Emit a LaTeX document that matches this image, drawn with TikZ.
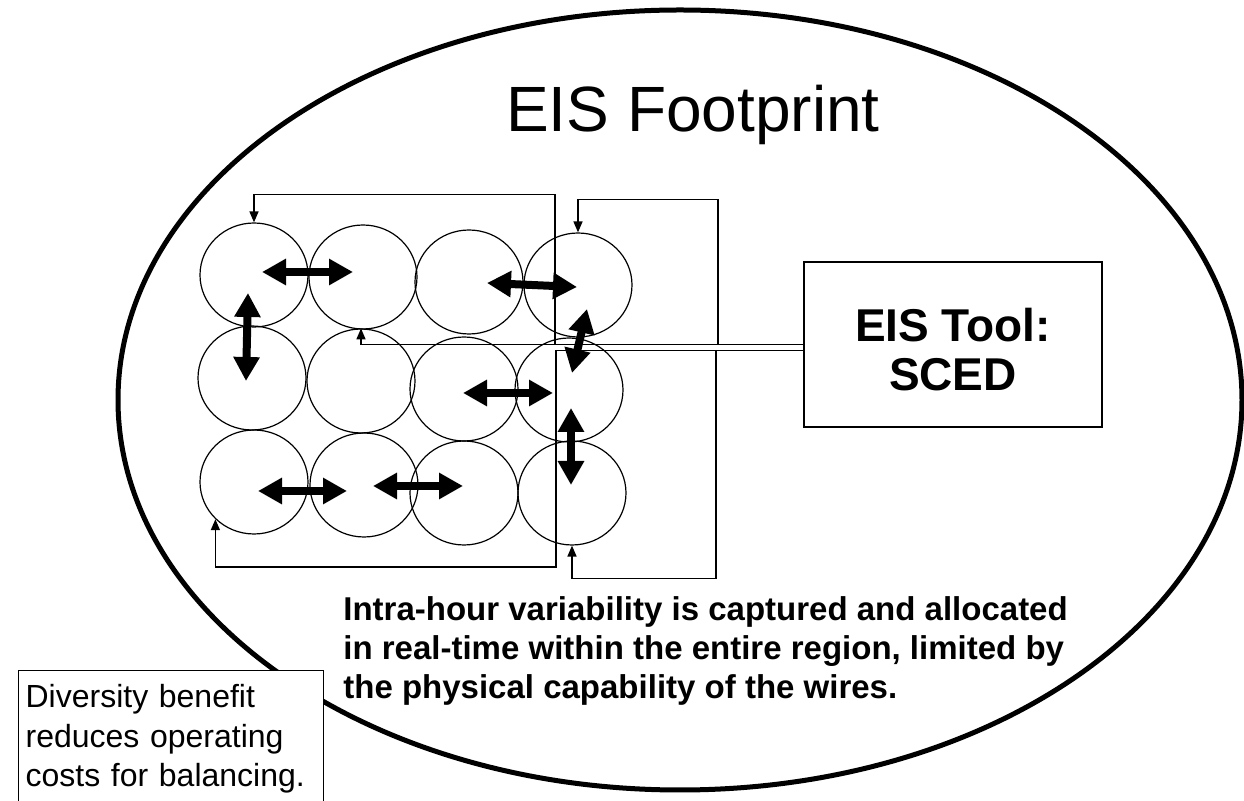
\documentclass[tikz,border=0pt]{standalone}
\usepackage{fontspec}
\setmainfont{Liberation Sans}
\usetikzlibrary{shapes.geometric,arrows.meta}

\begin{document}
\begin{tikzpicture}[x=0.5pt,y=-0.5pt]
\tikzstyle{cell}=[draw,ellipse,line width=0.6pt,inner sep=0pt,minimum width=54pt,minimum height=52pt];
\tikzstyle{flow}=[line width=4pt,{Triangle[length=12pt,width=12.5pt]}-{Triangle[length=12pt,width=12.5pt]}];
\tikzstyle{link}=[line width=0.8pt,-{Triangle[length=5.5pt,width=4.5pt]}];
\useasboundingbox (0,0) rectangle (1244,801);
\draw[line width=2.5pt] (680,400) ellipse [x radius=281pt,y radius=195pt];
\path (693,132) node[anchor=base,font=\fontsize{32}{38}\selectfont] (title) {EIS Footprint};
\path (254,275) node[cell] (c11) {};
\path (363,277) node[cell] (c12) {};
\path (469,282) node[cell] (c13) {};
\path (578,285) node[cell] (c14) {};
\path (252,378) node[cell] (c21) {};
\path (361,381) node[cell] (c22) {};
\path (464,389) node[cell] (c23) {};
\path (569,390) node[cell] (c24) {};
\path (254,482) node[cell] (c31) {};
\path (364,485) node[cell] (c32) {};
\path (464,493) node[cell] (c33) {};
\path (572,493) node[cell] (c34) {};
\path (953,344.5) node[draw,line width=0.8pt,minimum width=149pt,minimum height=82.5pt,align=center,font=\bfseries\fontsize{23}{24.5}\selectfont] (sced) {\rule{0pt}{22pt}EIS Tool:\\SCED};
\coordinate (tapA) at (555,344.5);
\coordinate (tapB) at (718,344.5);
\coordinate (tapD) at (716,350.5);
\coordinate (bendC) at (556,567);
\draw[link] (sced.west) -| (c22.north);
\draw[link] (tapA) |- ([shift={(0,-28)}]c11.north) -- (c11.north);
\draw[link] (tapB) |- ([shift={(0,-33)}]c14.north) -- (c14.north);
\draw[link] ([shift={(0,6)}]sced.west) -| (bendC) -| (c31.south west);
\draw[link] (tapD) |- ([shift={(0,33)}]c34.south) -- (c34.south);
\draw[flow] ([shift={(8,-3)}]c11.center) -- ([shift={(-10,-5)}]c12.center);
\draw[flow] ([shift={(18,1)}]c13.center) -- ([shift={(-1,2)}]c14.center);
\draw[flow] ([shift={(-6,18)}]c11.center) -- ([shift={(-6,3)}]c21.center);
\draw[flow] ([shift={(9,24)}]c14.center) -- ([shift={(3,-17)}]c24.center);
\draw[flow] ([shift={(-1,4)}]c23.center) -- ([shift={(-16,3)}]c24.center);
\draw[flow] ([shift={(2,18)}]c24.center) -- ([shift={(-1,-8)}]c34.center);
\draw[flow] ([shift={(4,9)}]c31.center) -- ([shift={(-17,6)}]c32.center);
\draw[flow] ([shift={(9,1)}]c32.center) -- ([shift={(-1,-7)}]c33.center);
\path (343,596) node[anchor=north west,inner sep=0pt,align=left,font=\bfseries\fontsize{16.5}{19.5}\selectfont] (note) {Intra-hour variability is captured and allocated\\in real-time within the entire region, limited by\\the physical capability of the wires.};
\path (18,670) node[anchor=north west,draw,fill=white,line width=0.6pt,inner xsep=3.5pt,inner ysep=7pt,text width=145.5pt,align=left,font=\fontsize{16}{19.75}\selectfont] (div) {Diversity benefit\\reduces operating\\costs for balancing.};
\end{tikzpicture}
\end{document}
